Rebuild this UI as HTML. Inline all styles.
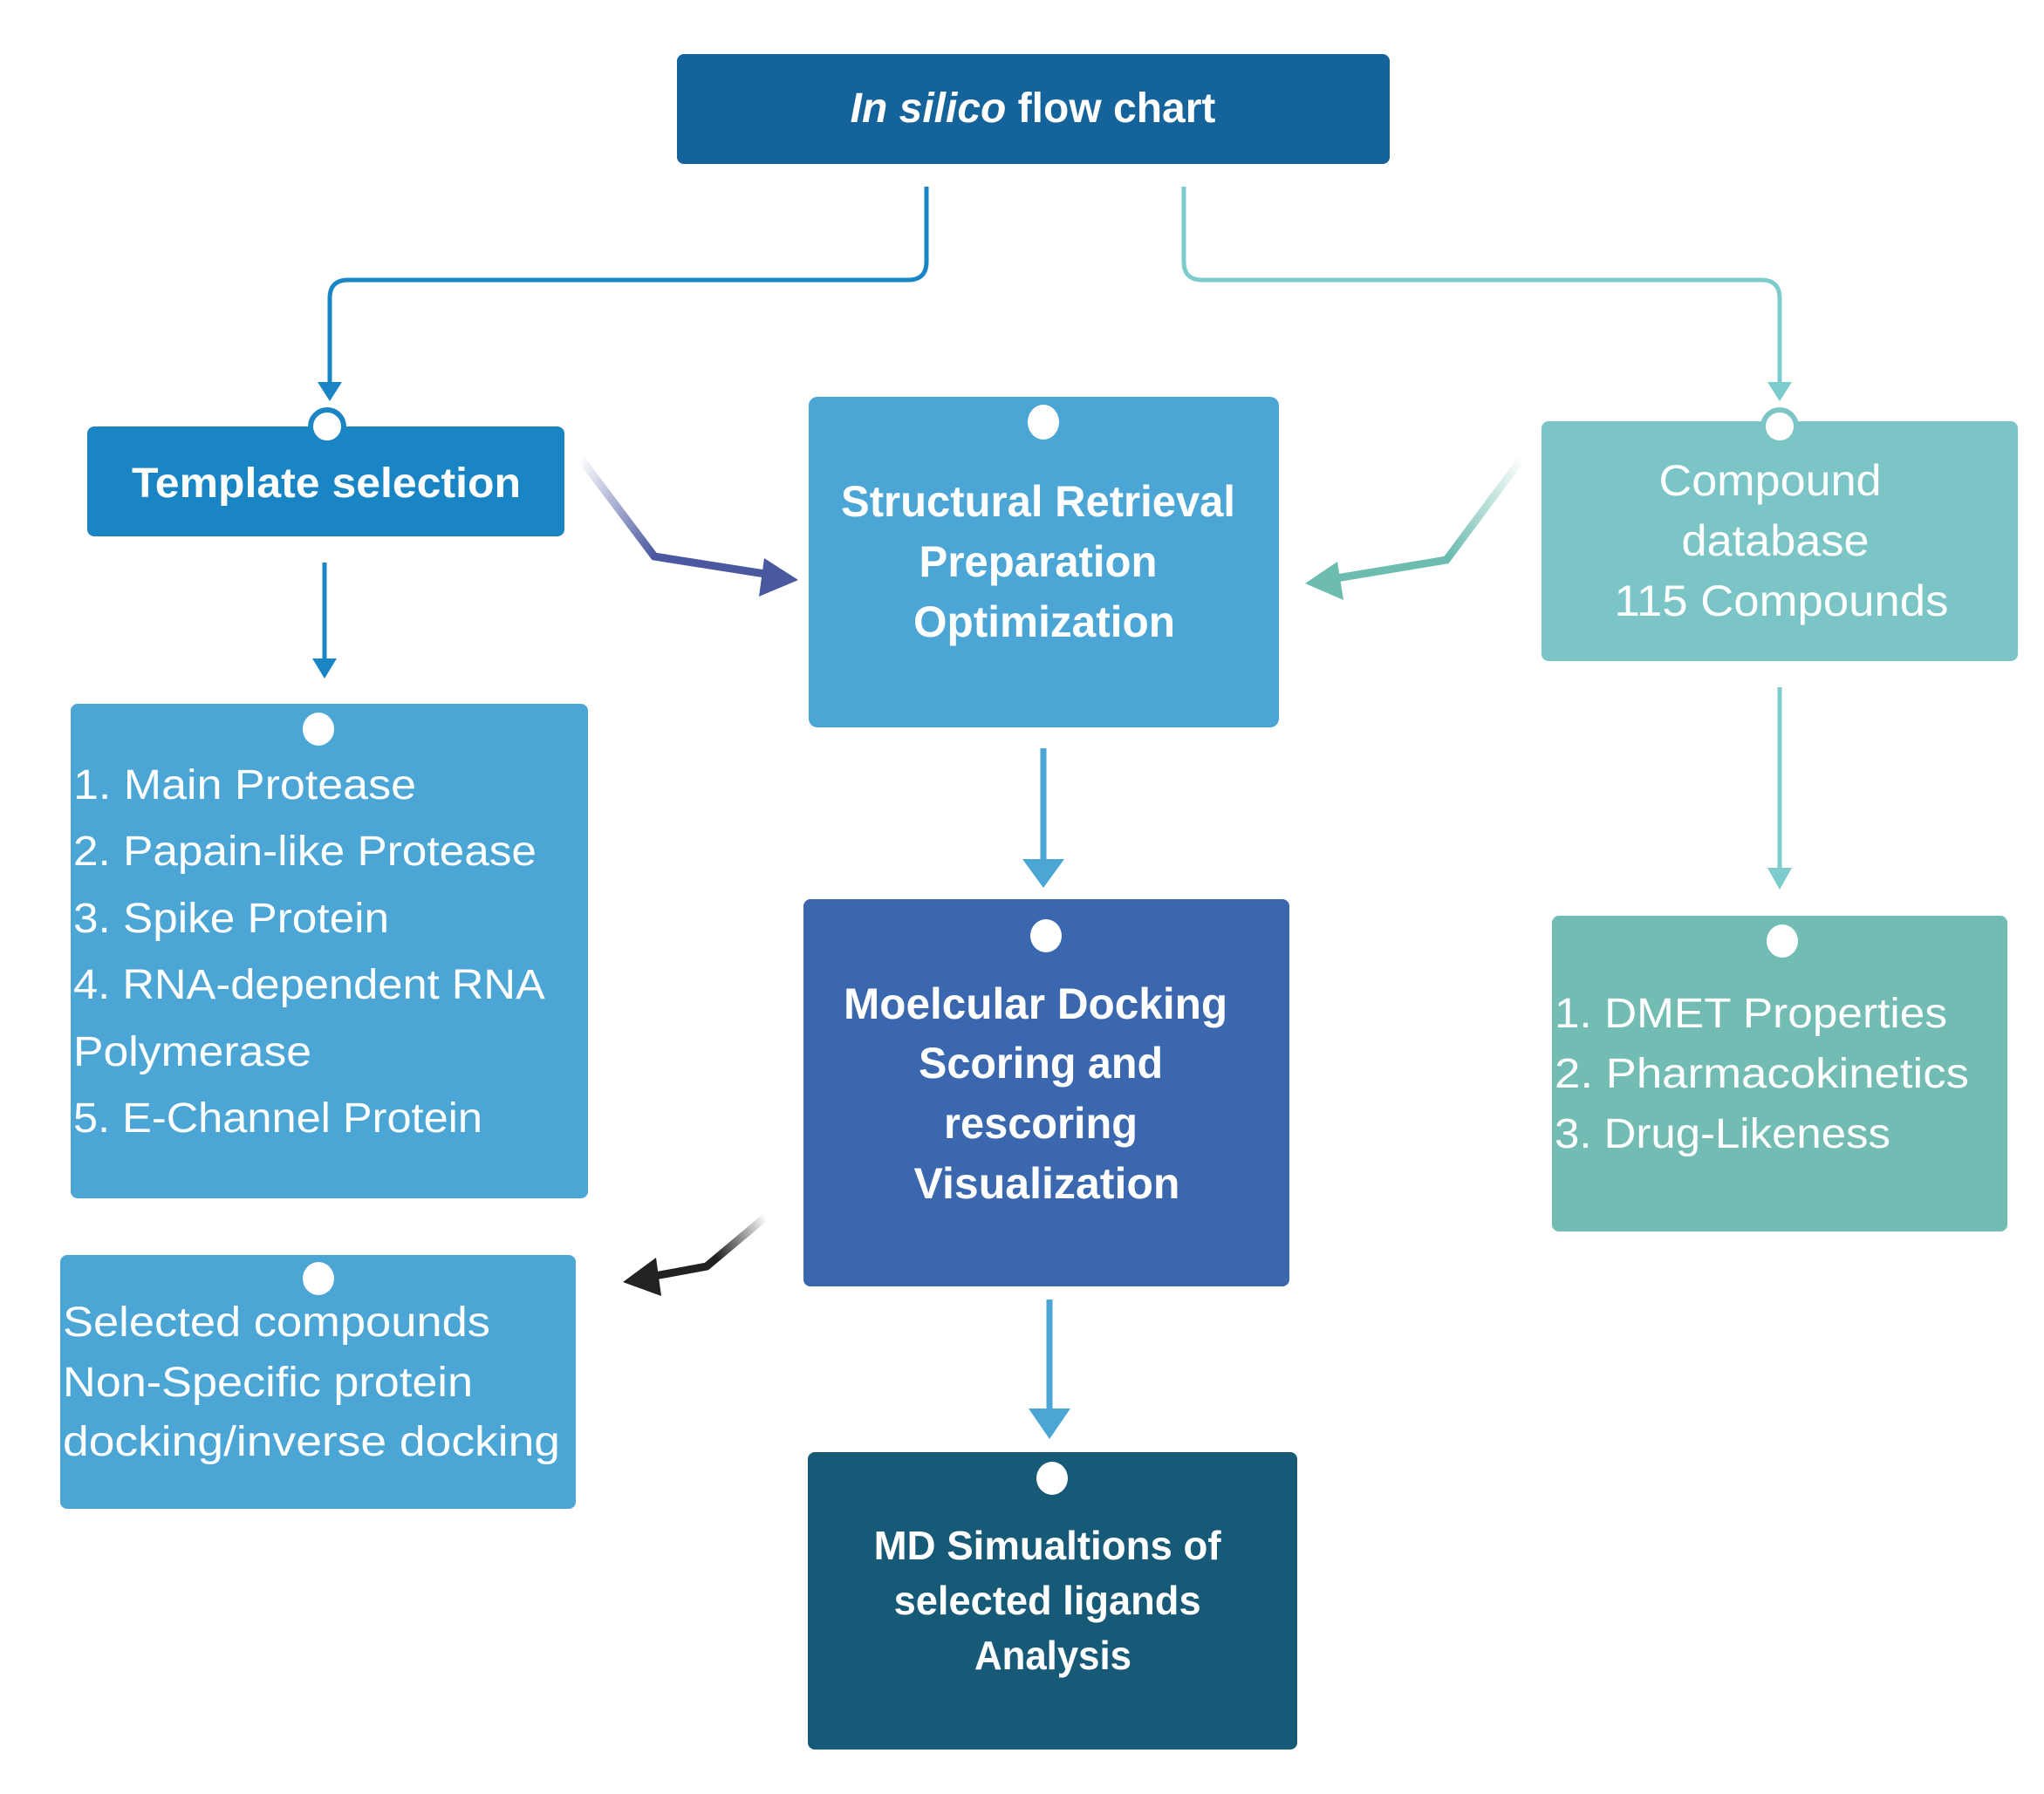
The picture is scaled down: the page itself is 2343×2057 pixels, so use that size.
<!DOCTYPE html>
<html><head><meta charset="utf-8"><style>
html,body{margin:0;padding:0;background:#fff;}
svg{display:block;}
text{font-family:"Liberation Sans",sans-serif;fill:#fff;}
.b{font-weight:bold;}
</style></head><body>
<svg width="2343" height="2057" viewBox="0 0 2343 2057" xmlns="http://www.w3.org/2000/svg">
<defs>
<linearGradient id="gp" x1="665" y1="525" x2="915" y2="665" gradientUnits="userSpaceOnUse"><stop offset="0" stop-color="#4a58a0" stop-opacity="0"/><stop offset="0.45" stop-color="#4a58a0"/></linearGradient>
<linearGradient id="gt" x1="1745" y1="525" x2="1496" y2="669" gradientUnits="userSpaceOnUse"><stop offset="0" stop-color="#6cbcb0" stop-opacity="0"/><stop offset="0.45" stop-color="#6cbcb0"/></linearGradient>
<linearGradient id="gk" x1="878" y1="1395" x2="716" y2="1470" gradientUnits="userSpaceOnUse"><stop offset="0" stop-color="#222" stop-opacity="0"/><stop offset="0.4" stop-color="#222"/></linearGradient>
</defs>

<!-- connectors top -->
<path d="M1062 214 V300 Q1062 321 1041 321 H399 Q378 321 378 342 V440" fill="none" stroke="#1a85c5" stroke-width="5"/>
<polygon points="364,438 392,438 378,460" fill="#1a85c5"/>
<path d="M1357 214 V300 Q1357 321 1378 321 H2019 Q2040 321 2040 342 V440" fill="none" stroke="#7ccccc" stroke-width="5"/>
<polygon points="2026,438 2054,438 2040,460" fill="#7ccccc"/>

<!-- vertical arrows -->
<line x1="372" y1="645" x2="372" y2="757" stroke="#1a85c5" stroke-width="5"/>
<polygon points="358,755 386,755 372,778" fill="#1a85c5"/>
<line x1="1196" y1="858" x2="1196" y2="990" stroke="#4ba6d5" stroke-width="7"/>
<polygon points="1172,985 1220,985 1196,1018" fill="#4ba6d5"/>
<line x1="1203" y1="1490" x2="1203" y2="1620" stroke="#4ba6d5" stroke-width="7"/>
<polygon points="1179,1615 1227,1615 1203,1650" fill="#4ba6d5"/>
<line x1="2040" y1="788" x2="2040" y2="998" stroke="#7ccccc" stroke-width="5"/>
<polygon points="2026,995 2054,995 2040,1020" fill="#7ccccc"/>

<!-- diagonal arrows -->
<polyline points="665,525 750,638 890,660" fill="none" stroke="url(#gp)" stroke-width="9"/>
<polygon points="915,665 876,640 870,684" fill="#4a58a0"/>
<polyline points="1745,525 1658,642 1520,665" fill="none" stroke="url(#gt)" stroke-width="9"/>
<polygon points="1496,669 1533,644 1540,688" fill="#6cbcb0"/>
<polyline points="878,1395 810,1452 740,1465" fill="none" stroke="url(#gk)" stroke-width="9"/>
<polygon points="714,1470 752,1442 758,1486" fill="#222"/>

<!-- boxes -->
<rect x="776" y="62" width="817" height="126" rx="8" fill="#14639a"/>
<text x="1184" y="140" font-size="48" text-anchor="middle" class="b"><tspan font-style="italic">In silico</tspan> flow chart</text>

<rect x="100" y="489" width="547" height="126" rx="8" fill="#1a85c5"/>
<text x="374" y="570" font-size="48" text-anchor="middle" class="b" textLength="446" lengthAdjust="spacingAndGlyphs">Template selection</text>

<rect x="927" y="455" width="539" height="379" rx="10" fill="#4ba6d5"/>
<text font-size="50" text-anchor="middle" class="b">
<tspan x="1197" y="592" textLength="452" lengthAdjust="spacingAndGlyphs">Structural Retrieval</tspan>
<tspan x="1197" y="661" textLength="273" lengthAdjust="spacingAndGlyphs">Preparation</tspan>
<tspan x="1197" y="730" textLength="300" lengthAdjust="spacingAndGlyphs">Optimization</tspan>
</text>

<rect x="1767" y="483" width="546" height="275" rx="8" fill="#7cc5c7"/>
<text font-size="50" text-anchor="middle">
<tspan x="2036" y="568" textLength="255" lengthAdjust="spacingAndGlyphs">Compound</tspan>
<tspan x="2042" y="637" textLength="215" lengthAdjust="spacingAndGlyphs">database</tspan>
<tspan x="2042" y="706" textLength="383" lengthAdjust="spacingAndGlyphs">115 Compounds</tspan>
</text>

<rect x="81" y="807" width="593" height="567" rx="8" fill="#4ba6d5"/>
<text font-size="48">
<tspan x="84" y="916" textLength="393" lengthAdjust="spacingAndGlyphs">1. Main Protease</tspan>
<tspan x="84" y="992" textLength="531" lengthAdjust="spacingAndGlyphs">2. Papain-like Protease</tspan>
<tspan x="84" y="1069" textLength="362" lengthAdjust="spacingAndGlyphs">3. Spike Protein</tspan>
<tspan x="84" y="1145" textLength="538" lengthAdjust="spacingAndGlyphs">4. RNA-dependent RNA</tspan>
<tspan x="84" y="1222" textLength="273" lengthAdjust="spacingAndGlyphs">Polymerase</tspan>
<tspan x="84" y="1298" textLength="469" lengthAdjust="spacingAndGlyphs">5. E-Channel Protein</tspan>
</text>

<rect x="921" y="1031" width="557" height="444" rx="8" fill="#3a67ae"/>
<text font-size="50" text-anchor="middle" class="b">
<tspan x="1194" y="1168" textLength="440" lengthAdjust="spacingAndGlyphs">Moelcular Docking</tspan>
<tspan x="1200" y="1236" textLength="280" lengthAdjust="spacingAndGlyphs">Scoring and</tspan>
<tspan x="1200" y="1305" textLength="222" lengthAdjust="spacingAndGlyphs">rescoring</tspan>
<tspan x="1200" y="1374" textLength="305" lengthAdjust="spacingAndGlyphs">Visualization</tspan>
</text>

<rect x="1779" y="1050" width="522" height="362" rx="8" fill="#72bcb3"/>
<text font-size="48">
<tspan x="1782" y="1178" textLength="450" lengthAdjust="spacingAndGlyphs">1. DMET Properties</tspan>
<tspan x="1782" y="1247" textLength="475" lengthAdjust="spacingAndGlyphs">2. Pharmacokinetics</tspan>
<tspan x="1782" y="1316" textLength="385" lengthAdjust="spacingAndGlyphs">3. Drug-Likeness</tspan>
</text>

<rect x="69" y="1439" width="591" height="291" rx="8" fill="#4ba6d5"/>
<text font-size="48">
<tspan x="72" y="1532" textLength="490" lengthAdjust="spacingAndGlyphs">Selected compounds</tspan>
<tspan x="72" y="1601" textLength="470" lengthAdjust="spacingAndGlyphs">Non-Specific protein</tspan>
<tspan x="72" y="1669" textLength="570" lengthAdjust="spacingAndGlyphs">docking/inverse docking</tspan>
</text>

<rect x="926" y="1665" width="561" height="341" rx="8" fill="#165a78"/>
<text font-size="46" text-anchor="middle" class="b">
<tspan x="1207" y="1788" textLength="398" lengthAdjust="spacingAndGlyphs">MD Simualtions of</tspan>
<tspan x="1207" y="1851" textLength="352" lengthAdjust="spacingAndGlyphs">selected ligands</tspan>
<tspan x="1207" y="1914" textLength="180" lengthAdjust="spacingAndGlyphs">Analysis</tspan>
</text>

<!-- circles -->
<circle cx="375" cy="489" r="19" fill="#fff" stroke="#1a85c5" stroke-width="6"/>
<circle cx="2040" cy="489" r="19" fill="#fff" stroke="#7cc5c7" stroke-width="6"/>
<ellipse cx="1196" cy="484" rx="18" ry="20" fill="#fff"/>
<ellipse cx="365" cy="836" rx="18" ry="19" fill="#fff"/>
<ellipse cx="1199" cy="1073" rx="18" ry="19" fill="#fff"/>
<ellipse cx="2043" cy="1079" rx="18" ry="19" fill="#fff"/>
<ellipse cx="365" cy="1466" rx="18" ry="19" fill="#fff"/>
<ellipse cx="1206" cy="1695" rx="18" ry="19" fill="#fff"/>
</svg>
</body></html>
